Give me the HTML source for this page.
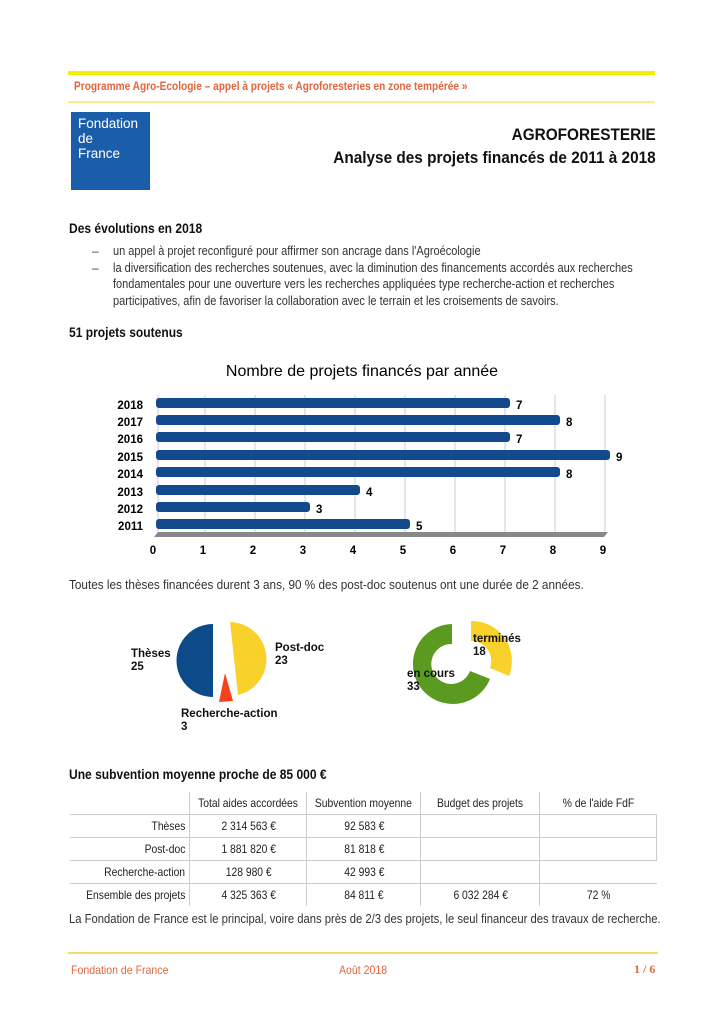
<!DOCTYPE html>
<html><head><meta charset="utf-8"><style>
body{margin:0;width:724px;height:1024px;background:#fff;position:relative;font-family:"Liberation Sans",sans-serif;color:#111;overflow:hidden}
.a{position:absolute;white-space:nowrap}
.s{transform:scaleX(.88);transform-origin:left}
td{font-size:12px;height:22px;padding:0;border-left:1px solid #ccc;border-top:1px solid #ccc;text-align:center;color:#222}
td span{display:inline-block;transform:scaleX(.86)}
td.r{text-align:right;border-left:none;padding-right:4px}
td.r span{transform-origin:right}
</style></head><body>
<div class="a" style="left:68px;top:71px;width:587px;height:4px;background:#f6ee00"></div>
<div class="a" style="left:74px;top:81px;font-size:11.5px;font-weight:bold;color:#e0663e;transform:scaleX(.88);transform-origin:left">Programme Agro-Ecologie – appel à projets « Agroforesteries en zone tempérée »</div>
<div class="a" style="left:68px;top:101px;width:587px;height:2px;background:#f6f08a"></div>
<div class="a" style="left:71px;top:112px;width:79px;height:78px;background:#1a5eaa"></div>
<div class="a" style="left:78px;top:116px;font-size:13.5px;line-height:15px;color:#fff">Fondation<br>de<br>France</div>
<div class="a" style="right:68px;top:124px;font-size:16.5px;font-weight:bold;text-align:right;line-height:23px;transform:scaleX(.93);transform-origin:right">AGROFORESTERIE<br>Analyse des projets financés de 2011 à 2018</div>
<div class="a" style="left:69px;top:220px;font-size:14px;font-weight:bold;transform:scaleX(.86);transform-origin:left">Des évolutions en 2018</div>
<div class="a" style="left:92px;top:243px;font-size:12px;line-height:16.5px;color:#333">–<br>–</div>
<div class="a s" style="left:113px;top:243px;font-size:12.5px;line-height:16.5px;color:#333">un appel à projet reconfiguré pour affirmer son ancrage dans l'Agroécologie<br>la diversification des recherches soutenues, avec la diminution des financements accordés aux recherches<br>fondamentales pour une ouverture vers les recherches appliquées type recherche-action et recherches<br>participatives, afin de favoriser la collaboration avec le terrain et les croisements de savoirs.</div>
<div class="a" style="left:69px;top:324px;font-size:14px;font-weight:bold;transform:scaleX(.86);transform-origin:left">51 projets soutenus</div>
<svg class="a" style="left:0;top:0" width="724" height="1024">
<text x="362" y="376" font-size="16" text-anchor="middle" font-family="Liberation Sans">Nombre de projets financés par année</text>
<g stroke="#ccc" stroke-width="1">
<line x1="205" y1="395" x2="205" y2="532"/><line x1="255" y1="395" x2="255" y2="532"/><line x1="305" y1="395" x2="305" y2="532"/><line x1="355" y1="395" x2="355" y2="532"/><line x1="405" y1="395" x2="405" y2="532"/><line x1="455" y1="395" x2="455" y2="532"/><line x1="505" y1="395" x2="505" y2="532"/><line x1="555" y1="395" x2="555" y2="532"/><line x1="605" y1="395" x2="605" y2="532"/><line x1="158" y1="395" x2="158" y2="532"/></g>
<polygon points="158,532 608,532 604,537 154,537" fill="#888"/>
<g fill="#134a8e">
<rect x="156" y="398" width="354" height="10" rx="3"/>
<rect x="156" y="415" width="404" height="10" rx="3"/>
<rect x="156" y="432" width="354" height="10" rx="3"/>
<rect x="156" y="450" width="454" height="10" rx="3"/>
<rect x="156" y="467" width="404" height="10" rx="3"/>
<rect x="156" y="485" width="204" height="10" rx="3"/>
<rect x="156" y="502" width="154" height="10" rx="3"/>
<rect x="156" y="519" width="254" height="10" rx="3"/></g>
<g font-size="11.5" font-weight="bold" font-family="Liberation Sans">
<g text-anchor="end"><text x="143" y="409">2018</text><text x="143" y="426">2017</text><text x="143" y="443">2016</text><text x="143" y="461">2015</text><text x="143" y="478">2014</text><text x="143" y="496">2013</text><text x="143" y="513">2012</text><text x="143" y="530">2011</text></g>
<text x="516" y="409">7</text><text x="566" y="426">8</text><text x="516" y="443">7</text><text x="616" y="461">9</text><text x="566" y="478">8</text><text x="366" y="496">4</text><text x="316" y="513">3</text><text x="416" y="530">5</text>
<g text-anchor="middle"><text x="153" y="554">0</text><text x="203" y="554">1</text><text x="253" y="554">2</text><text x="303" y="554">3</text><text x="353" y="554">4</text><text x="403" y="554">5</text><text x="453" y="554">6</text><text x="503" y="554">7</text><text x="553" y="554">8</text><text x="603" y="554">9</text></g></g>
<path d="M213,624 A36,36 0 0 0 213,697 Z" fill="#0d4a8a"/>
<path d="M230,622 A37,37 0 0 1 238,695 Z" fill="#f9d12b"/>
<path d="M225,673 L219,702 L233,701 Z" fill="#f4431c"/>
<path d="M452,624 A40,40 0 1 0 490,679 L470,671 A20,20 0 1 1 452,644 Z" fill="#5a9a21"/>
<path d="M471,621 A40,40 0 0 1 509,676 L490,668 A20,20 0 0 0 471,641 Z" fill="#f9d12b"/>
<g font-size="11.5" font-weight="bold" font-family="Liberation Sans" fill="#111">
<text x="131" y="657">Thèses</text><text x="131" y="670">25</text>
<text x="275" y="651">Post-doc</text><text x="275" y="664">23</text>
<text x="181" y="717">Recherche-action</text><text x="181" y="730">3</text>
<text x="473" y="642">terminés</text><text x="473" y="655">18</text>
<text x="407" y="677">en cours</text><text x="407" y="690">33</text></g>
</svg>
<div class="a" style="left:69px;top:578px;font-size:12.5px;color:#333;transform:scaleX(.94);transform-origin:left">Toutes les thèses financées durent 3 ans, 90 % des post-doc soutenus ont une durée de 2 années.</div>
<div class="a" style="left:69px;top:766px;font-size:14px;font-weight:bold;transform:scaleX(.86);transform-origin:left">Une subvention moyenne proche de 85 000 €</div>
<table class="a" style="left:70px;top:792px;border-collapse:collapse;width:587px">
<tr><td style="border:none;width:116px"></td><td style="border-top:none;width:114px"><span>Total aides accordées</span></td><td style="border-top:none;width:105px"><span>Subvention moyenne</span></td><td style="border-top:none;width:118px"><span>Budget des projets</span></td><td style="border-top:none"><span>% de l'aide FdF</span></td></tr>
<tr><td class="r"><span>Thèses</span></td><td><span>2 314 563 €</span></td><td><span>92 583 €</span></td><td></td><td style="border-right:1px solid #ccc"></td></tr>
<tr><td class="r"><span>Post-doc</span></td><td><span>1 881 820 €</span></td><td><span>81 818 €</span></td><td></td><td style="border-right:1px solid #ccc"></td></tr>
<tr><td class="r"><span>Recherche-action</span></td><td><span>128 980 €</span></td><td><span>42 993 €</span></td><td></td><td></td></tr>
<tr><td class="r"><span>Ensemble des projets</span></td><td><span>4 325 363 €</span></td><td><span>84 811 €</span></td><td><span>6 032 284 €</span></td><td><span>72 %</span></td></tr>
</table>
<div class="a" style="left:69px;top:912px;font-size:12.5px;color:#333;transform:scaleX(.9);transform-origin:left">La Fondation de France est le principal, voire dans près de 2/3 des projets, le seul financeur des travaux de recherche.</div>
<div class="a" style="left:68px;top:952px;width:590px;height:2px;background:#f5d96a"></div>
<div class="a s" style="left:71px;top:963px;font-size:12px;color:#e0663e">Fondation de France</div>
<div class="a s" style="left:339px;top:963px;font-size:12px;color:#e0663e">Août 2018</div>
<div class="a" style="left:634px;top:962px;font-size:12px;font-weight:bold;color:#e0663e;font-family:'Liberation Serif',serif">1 / 6</div>
</body></html>
